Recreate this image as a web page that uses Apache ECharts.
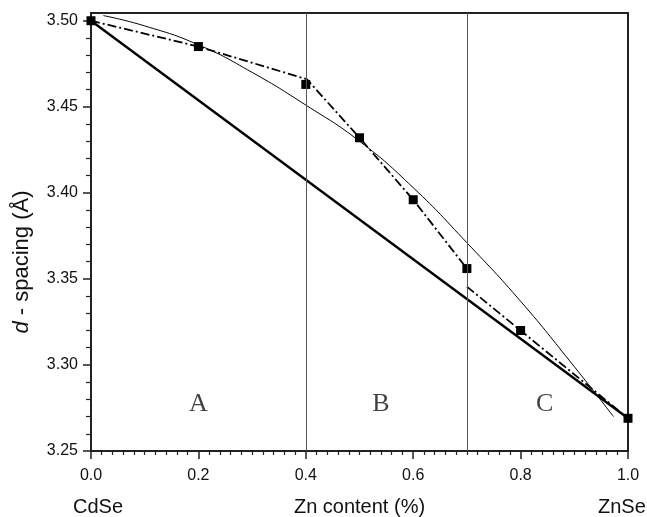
<!DOCTYPE html>
<html>
<head>
<meta charset="utf-8">
<script src="https://cdn.jsdelivr.net/npm/echarts@6/dist/echarts.min.js"></script>
<style>
  html, body { margin: 0; padding: 0; background: #fff; }
  #chart { width: 647px; height: 517px; }
</style>
</head>
<body>
<div id="chart"></div>
<script>
// Measured d-spacings of the Cd(1-x)Zn(x)Se samples (square markers)
const measuredX = [0.0, 0.2, 0.4, 0.5, 0.6, 0.7, 0.8, 1.0];
const measuredD = [3.500, 3.485, 3.463, 3.432, 3.396, 3.356, 3.320, 3.269];

// Dash-dot trace: Cd-rich branch (regions A and B) and Zn-rich branch (region C)
const traceLowX = [0.0, 0.2, 0.402, 0.5, 0.6, 0.7];
const traceLowD = [3.500, 3.485, 3.466, 3.432, 3.396, 3.356];
const traceHighX = [0.7, 0.8, 1.0];
const traceHighD = [3.3455, 3.320, 3.269];

// Vegard's law between CdSe and ZnSe (thick straight line)
const vegardX = [0.0, 1.0];
const vegardD = [3.500, 3.269];

// Thin bowed curve
const bowX = [0.023, 0.1, 0.2, 0.3, 0.4, 0.5, 0.6, 0.7, 0.8, 0.9, 0.973];
const bowD = [3.503, 3.497, 3.486, 3.470, 3.451, 3.430, 3.403, 3.371, 3.337, 3.299, 3.270];

// Composition regions
const regionBounds = [0.4, 0.7];
const regionNames = ['A', 'B', 'C'];
const regionX = [0.2, 0.54, 0.845];
const regionD = [3.277, 3.277, 3.277];

// Axis ticks
const xTickStep = 0.2;
const yMajorTicks = [3.25, 3.30, 3.35, 3.40, 3.45, 3.50];
const yMinorTicks = [3.26, 3.27, 3.28, 3.29, 3.31, 3.32, 3.33, 3.34, 3.36, 3.37, 3.38, 3.39,
                     3.41, 3.42, 3.43, 3.44, 3.46, 3.47, 3.48, 3.49];

const pairs = (xs, ys) => xs.map((x, i) => [x, ys[i]]);

const SANS = '"Liberation Sans", Arial, Helvetica, sans-serif';
const SERIF = '"Liberation Serif", "Times New Roman", serif';
const AXIS_COLOR = '#222';
const INK = '#111';

const chart = echarts.init(document.getElementById('chart'), null, { renderer: 'canvas' });

const yRange = { min: 3.25, max: 3.5045 };

chart.setOption({
  animation: false,
  backgroundColor: '#fff',
  grid: {
    left: 91, right: 19, top: 13, bottom: 66,
    containLabel: false, outerBoundsMode: 'none',
    show: true, borderColor: AXIS_COLOR, borderWidth: 2, backgroundColor: 'transparent'
  },
  xAxis: {
    type: 'value', min: 0, max: 1, interval: xTickStep,
    name: 'Zn content (%)', nameLocation: 'middle', nameGap: 46,
    nameTextStyle: { fontFamily: SANS, fontSize: 20, color: INK },
    axisLine: { show: true, lineStyle: { color: AXIS_COLOR, width: 2 } },
    axisTick: { show: true, length: 8, lineStyle: { color: AXIS_COLOR, width: 1.5 } },
    minorTick: { show: true, splitNumber: 10, length: 4, lineStyle: { color: AXIS_COLOR, width: 1.2 } },
    axisLabel: { fontFamily: SANS, fontSize: 16, color: INK, margin: 17,
                 formatter: v => v.toFixed(1) },
    splitLine: { show: false }
  },
  yAxis: [
    {
      type: 'value', min: yRange.min, max: yRange.max, position: 'left',
      axisLine: { show: true, lineStyle: { color: AXIS_COLOR, width: 2 } },
      axisTick: { show: true, length: 8, customValues: yMajorTicks,
                  lineStyle: { color: AXIS_COLOR, width: 1.5 } },
      axisLabel: { fontFamily: SANS, fontSize: 16, color: INK, margin: 13,
                   customValues: yMajorTicks, formatter: v => v.toFixed(2) },
      splitLine: { show: false }
    },
    {
      type: 'value', min: yRange.min, max: yRange.max, position: 'left',
      axisLine: { show: false },
      axisTick: { show: true, length: 5, customValues: yMinorTicks,
                  lineStyle: { color: AXIS_COLOR, width: 1.2 } },
      axisLabel: { show: false },
      splitLine: { show: false }
    }
  ],
  graphic: [
    {
      type: 'text', x: 22, y: 262, rotation: Math.PI / 2,
      style: {
        text: '{i|d} - spacing (Å)',
        fontFamily: SANS, fontSize: 22, fill: INK,
        align: 'center', verticalAlign: 'middle',
        rich: { i: { fontStyle: 'italic', fontFamily: SANS, fontSize: 22, fill: INK } }
      }
    },
    {
      type: 'text', x: 73, y: 507,
      style: { text: 'CdSe', fontFamily: SANS, fontSize: 20, fill: INK,
               align: 'left', verticalAlign: 'middle' }
    },
    {
      type: 'text', x: 598, y: 507,
      style: { text: 'ZnSe', fontFamily: SANS, fontSize: 20, fill: INK,
               align: 'left', verticalAlign: 'middle' }
    }
  ],
  series: [
    {
      // region labels and the boundaries between regions
      type: 'scatter', symbolSize: 0, silent: true, z: 1,
      data: regionNames.map((n, i) => ({ name: n, value: [regionX[i], regionD[i]] })),
      label: { show: true, position: 'inside', formatter: '{b}',
               fontFamily: SERIF, fontSize: 26, color: INK },
      markLine: {
        silent: true, symbol: 'none', animation: false,
        label: { show: false },
        lineStyle: { color: '#555', width: 1, type: 'solid' },
        data: regionBounds.map(b => ({ xAxis: b }))
      }
    },
    {
      type: 'line', data: pairs(vegardX, vegardD), showSymbol: false, z: 2,
      lineStyle: { color: '#000', width: 2.4 }
    },
    {
      type: 'line', data: pairs(bowX, bowD), showSymbol: false, smooth: true, z: 2,
      lineStyle: { color: '#000', width: 1 }
    },
    {
      type: 'line', data: pairs(traceLowX, traceLowD), showSymbol: false, z: 3,
      lineStyle: { color: '#000', width: 1.8, type: [9, 3, 2, 3] }
    },
    {
      type: 'line', data: pairs(traceHighX, traceHighD), showSymbol: false, z: 3,
      lineStyle: { color: '#000', width: 1.8, type: [9, 3, 2, 3] }
    },
    {
      type: 'scatter', data: pairs(measuredX, measuredD), symbol: 'rect', symbolSize: 9, z: 4,
      itemStyle: { color: '#000', opacity: 1 }
    }
  ]
});
</script>
</body>
</html>
